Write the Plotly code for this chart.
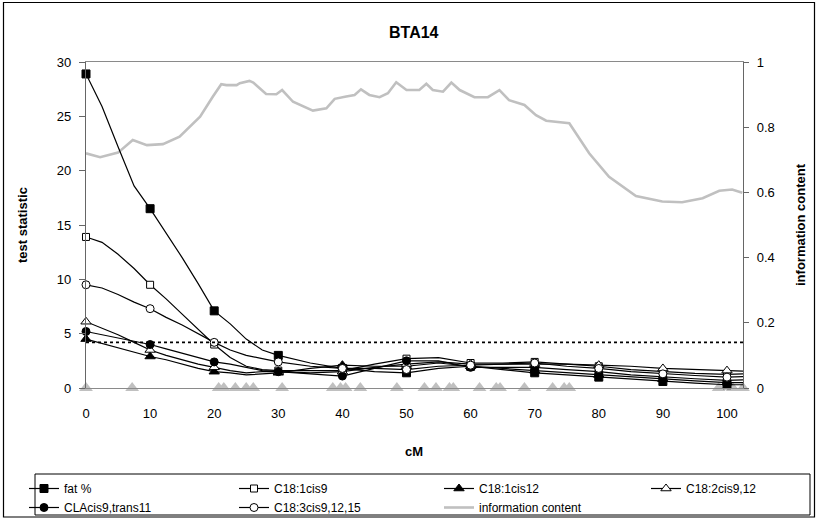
import plotly.graph_objects as go

# ---- data -------------------------------------------------------------
# map positions (cM) at which the test statistics are read
cm = [0, 2.5, 5, 7.5, 10, 12.5, 15, 17.5, 20, 22.5, 25, 27.5, 30, 35, 40,
      45, 50, 55, 60, 65, 70, 75, 80, 85, 90, 95, 100, 102.5]

fat_pct = [28.9, 25.9, 22.2, 18.6, 16.5, 14.3, 12.0, 9.6, 7.1, 5.9, 4.5, 3.5, 3.0,
           2.3, 1.8, 1.5, 1.4, 1.8, 2.0, 1.7, 1.4, 1.2, 1.0, 0.8, 0.6, 0.45, 0.3, 0.3]
c18_1cis9 = [13.9, 13.4, 12.3, 11.0, 9.5, 8.2, 6.8, 5.4, 4.0, 2.8, 2.0, 1.7, 1.6,
             1.6, 1.6, 2.2, 2.7, 2.8, 2.3, 2.3, 2.4, 2.2, 2.0, 1.7, 1.5, 1.35, 1.25, 1.3]
c18_1cis12 = [4.5, 4.1, 3.7, 3.3, 2.9, 2.6, 2.2, 1.8, 1.5, 1.4, 1.2, 1.3, 1.4,
              1.8, 2.1, 2.0, 2.0, 2.3, 2.0, 1.8, 1.6, 1.4, 1.2, 1.0, 0.8, 0.65, 0.5, 0.5]
c18_2cis9_12 = [6.1, 5.5, 4.9, 4.2, 3.5, 3.0, 2.6, 2.2, 1.9, 1.6, 1.4, 1.5, 1.5,
                1.4, 1.5, 1.9, 2.2, 2.4, 2.2, 2.2, 2.2, 2.2, 2.1, 2.0, 1.8, 1.7, 1.6, 1.55]
cla_cis9_trans11 = [5.2, 4.9, 4.6, 4.3, 4.0, 3.6, 3.2, 2.8, 2.4, 2.2, 1.9, 1.6, 1.5,
                    1.3, 1.1, 1.8, 2.5, 2.5, 1.9, 1.9, 1.9, 1.7, 1.5, 1.2, 1.0, 0.85, 0.7, 0.75]
c18_3cis9_12_15 = [9.5, 9.2, 8.6, 7.9, 7.3, 6.5, 5.8, 5.0, 4.2, 3.5, 3.0, 2.7, 2.4,
                   2.0, 1.8, 1.8, 1.7, 2.0, 2.1, 2.2, 2.3, 2.0, 1.8, 1.5, 1.3, 1.15, 1.0, 1.05]

# information content along the chromosome
info_cm = [0, 2.2, 5.0, 7.3, 9.5, 12.0, 14.6, 17.8, 19.8, 21.1, 21.9, 23.5, 24.0, 25.5,
           26.1, 28.1, 29.7, 30.6, 32.3, 35.4, 37.5, 38.8, 40.6, 41.9, 42.9, 44.2, 45.8,
           47.1, 48.4, 50.0, 52.0, 53.1, 54.1, 55.7, 57.0, 58.3, 60.6, 62.7, 64.5, 66.0,
           68.4, 70.2, 71.8, 75.4, 78.5, 80.0, 81.6, 85.8, 89.9, 93.0, 96.2, 98.8, 100.8, 102.4]
info_content = [0.72, 0.708, 0.722, 0.761, 0.745, 0.748, 0.771, 0.832, 0.894, 0.932, 0.929,
                0.929, 0.935, 0.942, 0.937, 0.902, 0.901, 0.914, 0.878, 0.851, 0.858, 0.887,
                0.894, 0.899, 0.916, 0.899, 0.892, 0.904, 0.938, 0.914, 0.914, 0.933, 0.914,
                0.909, 0.937, 0.914, 0.892, 0.892, 0.914, 0.883, 0.868, 0.837, 0.820, 0.812,
                0.720, 0.684, 0.648, 0.589, 0.572, 0.570, 0.582, 0.605, 0.609, 0.599]

# marker (genotyped locus) positions, cM
marker_cm = [0, 7.2, 20.7, 21.5, 23.3, 25.0, 26.1, 30.6, 38.5, 39.7, 40.5, 42.8, 48.5,
             52.8, 54.6, 56.7, 57.3, 61.4, 64.0, 64.6, 68.4, 72.8, 74.6, 75.4, 98.7,
             100.9, 102.5]

threshold = 4.2
x_ticks = [0, 10, 20, 30, 40, 50, 60, 70, 80, 90, 100]
x_max = 102.5

# name, values, symbol, fill, size, legend column
series = [
    ("fat %", fat_pct, "square", "black", 8, "legend"),
    ("C18:1cis9", c18_1cis9, "square", "white", 7, "legend2"),
    ("C18:1cis12", c18_1cis12, "triangle-up", "black", 9, "legend3"),
    ("C18:2cis9,12", c18_2cis9_12, "triangle-up", "white", 9, "legend4"),
    ("CLAcis9,trans11", cla_cis9_trans11, "circle", "black", 8, "legend"),
    ("C18:3cis9,12,15", c18_3cis9_12_15, "circle", "white", 8, "legend2"),
]

W, H = 819, 518
PL, PR, PT, PB = 86, 743, 62, 388   # plot area in pixels
FONT = "Liberation Sans, Arial, sans-serif"
GREY = "#c0c0c0"


def px(x):
    return x / W


def py(y):
    return (H - y) / H


fig = go.Figure()

# information content (right axis) and locus positions
fig.add_trace(go.Scatter(
    x=info_cm, y=info_content, mode="lines", yaxis="y", name="information content",
    legend="legend3", legendrank=2,
    line=dict(color=GREY, width=2.6), hoverinfo="skip"))
fig.add_trace(go.Scatter(
    x=marker_cm, y=[0] * len(marker_cm), mode="markers", yaxis="y", showlegend=False,
    marker=dict(symbol="triangle-up", size=12, color=GREY), cliponaxis=False,
    hoverinfo="skip"))

# test statistic curves (left axis)
for i, (name, vals, sym, fill, size, leg) in enumerate(series):
    fig.add_trace(go.Scatter(
        x=cm, y=vals, mode="lines", yaxis="y2", showlegend=False,
        line=dict(color="black", width=1.2), hoverinfo="skip", cliponaxis=False))
    mx, my = [], []
    for x, v in zip(cm, vals):
        if x in x_ticks:
            mx += [x, None]
            my += [v, None]
    fig.add_trace(go.Scatter(
        x=mx, y=my, mode="lines+markers", yaxis="y2", name=name,
        legend=leg, legendrank=1 + i // 4,
        connectgaps=False, cliponaxis=False,
        line=dict(color="black", width=1.2),
        marker=dict(symbol=sym, size=size, color=fill,
                    line=dict(color="black", width=1))))

shapes = [
    # significance threshold
    dict(type="line", xref="x", yref="y2", x0=0, x1=x_max, y0=threshold, y1=threshold,
         line=dict(color="black", width=1.6, dash="dot")),
    # legend frame
    dict(type="rect", xref="paper", yref="paper", x0=px(35), x1=px(810),
         y0=py(515), y1=py(474), line=dict(color="black", width=1)),
    # chart frame
    dict(type="rect", xref="paper", yref="paper", x0=px(3.5), x1=px(814.5),
         y0=py(517), y1=py(2.5), line=dict(color="black", width=1.2)),
]


def label(text, x, y, size=13, angle=0):
    return dict(text=text, x=px(x), y=py(y), xref="paper", yref="paper",
                xanchor="center", yanchor="middle", showarrow=False, textangle=angle,
                font=dict(size=size, family=FONT, color="black"))


annotations = [
    label("<b>BTA14</b>", 414, 33, size=16),
    label("<b>cM</b>", 414, 451),
    label("<b>test statistic</b>", 22, 225, angle=-90),
    label("<b>information content</b>", 800, 225, angle=-90),
]

legend_style = dict(orientation="v", xanchor="left", y=py(474), yanchor="top",
                    bgcolor="rgba(0,0,0,0)", borderwidth=0, itemwidth=30,
                    font=dict(size=12, family=FONT, color="black"), traceorder="normal")
legend_x = {"legend": 24, "legend2": 234, "legend3": 439, "legend4": 646}

fig.update_layout(
    width=W, height=H,
    margin=dict(l=0, r=0, t=0, b=0, autoexpand=False),
    paper_bgcolor="white", plot_bgcolor="white",
    font=dict(family=FONT, size=13, color="black"),
    showlegend=True,
    xaxis=dict(domain=[px(PL), px(PR)], range=[0, x_max], tickvals=x_ticks,
               showline=True, linecolor="#8a8a8a", linewidth=1.2, mirror=True,
               ticks="outside", ticklen=13, tickcolor="rgba(0,0,0,0)",
               showgrid=False, zeroline=False, anchor="y", tickfont=dict(size=13)),
    yaxis=dict(domain=[py(PB), py(PT)], range=[0, 1], dtick=0.2, side="right",
               anchor="x", showline=True, linecolor="#666666", linewidth=1.2,
               ticks="outside", ticklen=5, tickcolor="#666666", ticklabelstandoff=5,
               showgrid=False, zeroline=False, tickfont=dict(size=13)),
    yaxis2=dict(range=[0, 30], dtick=5, side="left", overlaying="y", anchor="x",
                showline=True, linecolor="#666666", linewidth=1.2,
                ticks="outside", ticklen=6, tickcolor="#666666", ticklabelstandoff=5,
                showgrid=False, zeroline=False, tickfont=dict(size=13)),
    shapes=shapes,
    annotations=annotations,
)
for key, lx in legend_x.items():
    fig.update_layout({key: dict(legend_style, x=px(lx))})

fig.write_html("out.html")
